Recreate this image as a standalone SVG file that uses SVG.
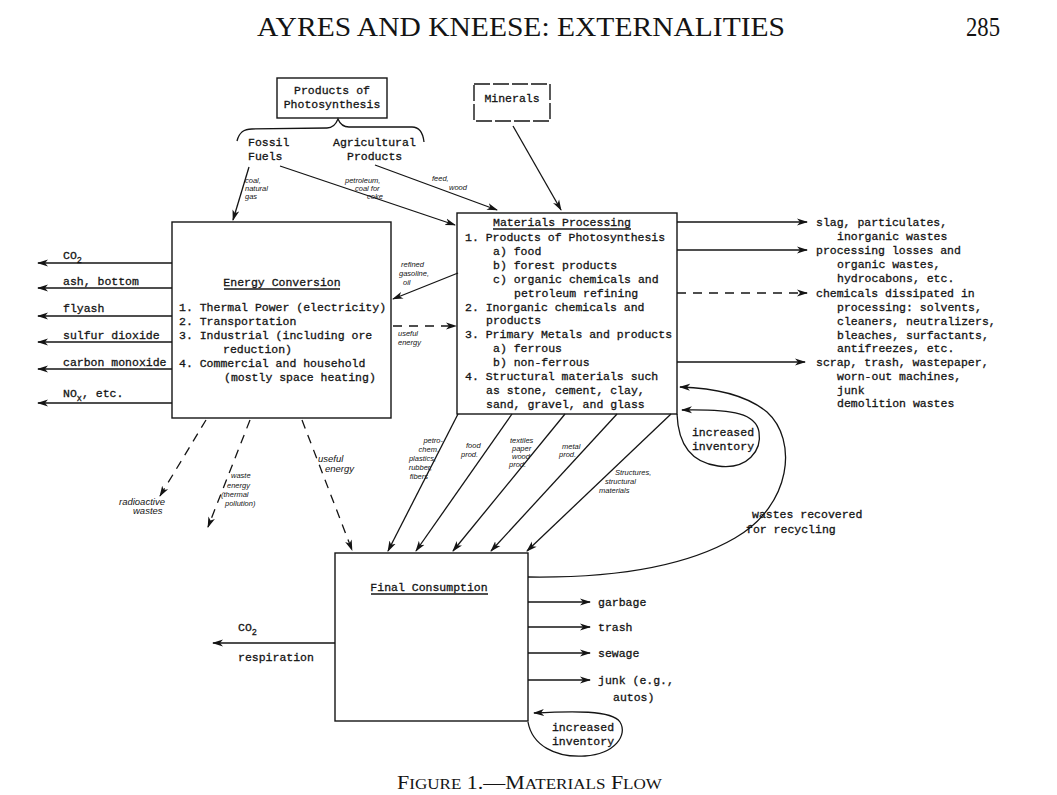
<svg xmlns="http://www.w3.org/2000/svg" width="1057" height="795" viewBox="0 0 1057 795">
<defs>
<style>
.tw{font-family:"Liberation Mono","DejaVu Sans Mono",monospace;font-size:11.5px;fill:#141414;stroke:#141414;stroke-width:0.3}
.hw{font-family:"Liberation Sans","DejaVu Sans",sans-serif;font-style:italic;font-size:7.5px;fill:#141414}
.hl{font-size:9.5px}
.hd{font-family:"Liberation Serif","DejaVu Serif",serif;fill:#141414}
.box{fill:none;stroke:#141414;stroke-width:1.4}
.ln{fill:none;stroke:#141414;stroke-width:1.3}
.ar{fill:none;stroke:#141414;stroke-width:1.3;marker-end:url(#ah)}
.da{fill:none;stroke:#141414;stroke-width:1.3;stroke-dasharray:9 7;marker-end:url(#ah)}
.mid{text-anchor:middle}
.end{text-anchor:end}
</style>
<marker id="ah" markerWidth="11" markerHeight="8" refX="10" refY="4" orient="auto" markerUnits="userSpaceOnUse">
<path d="M0,0.5 L11,4 L0,7.5 L3,4 z" fill="#141414"/>
</marker>
</defs>
<rect width="1057" height="795" fill="#ffffff"/>

<g id="header">
<text class="hd" x="257" y="36" font-size="28" textLength="528" lengthAdjust="spacingAndGlyphs">AYRES AND KNEESE: EXTERNALITIES</text>
<text class="hd" x="966" y="36" font-size="28" textLength="34" lengthAdjust="spacingAndGlyphs">285</text>
</g>

<g id="products-of-photosynthesis">
<rect class="box" x="277" y="78" width="110" height="40"/>
<text class="tw mid" x="332" y="94">Products of</text>
<text class="tw mid" x="332" y="108">Photosynthesis</text>
<path class="ln" d="M237,141 C239,133 243,129 252,129 L327,128 C333,128 336,124 338,119 C340,124 343,127 349,127 L412,127 C419,127 423,133 424,142"/>
</g>

<g id="fossil-fuels">
<text class="tw" x="248" y="146">Fossil</text>
<text class="tw" x="248" y="160">Fuels</text>
</g>

<g id="agricultural-products">
<text class="tw" x="333" y="146">Agricultural</text>
<text class="tw" x="347" y="160">Products</text>
</g>

<g id="minerals">
<rect class="box" x="474" y="84" width="76" height="37" stroke-dasharray="16 3"/>
<text class="tw mid" x="512" y="102">Minerals</text>
</g>

<g id="energy-conversion">
<rect class="box" x="172" y="222" width="219" height="196"/>
<text class="tw mid" x="282" y="286">Energy Conversion</text>
<line class="ln" x1="224" y1="289" x2="340" y2="289" stroke-width="1"/>
<text class="tw" x="179" y="311">1. Thermal Power (electricity)</text>
<text class="tw" x="179" y="325">2. Transportation</text>
<text class="tw" x="179" y="339">3. Industrial (including ore</text>
<text class="tw" x="223" y="353">reduction)</text>
<text class="tw" x="179" y="367">4. Commercial and household</text>
<text class="tw" x="224" y="381">(mostly space heating)</text>
</g>

<g id="materials-processing">
<rect class="box" x="457" y="213" width="220" height="201"/>
<text class="tw mid" x="562" y="226">Materials Processing</text>
<line class="ln" x1="493" y1="229" x2="631" y2="229" stroke-width="1"/>
<text class="tw" x="465" y="241">1. Products of Photosynthesis</text>
<text class="tw" x="493" y="255">a) food</text>
<text class="tw" x="493" y="269">b) forest products</text>
<text class="tw" x="493" y="283">c) organic chemicals and</text>
<text class="tw" x="514" y="297">petroleum refining</text>
<text class="tw" x="465" y="311">2. Inorganic chemicals and</text>
<text class="tw" x="486" y="324">products</text>
<text class="tw" x="465" y="338">3. Primary Metals and products</text>
<text class="tw" x="493" y="352">a) ferrous</text>
<text class="tw" x="493" y="366">b) non-ferrous</text>
<text class="tw" x="465" y="380">4. Structural materials such</text>
<text class="tw" x="486" y="394">as stone, cement, clay,</text>
<text class="tw" x="486" y="408">sand, gravel, and glass</text>
</g>

<g id="final-consumption">
<rect class="box" x="335" y="553" width="193" height="168"/>
<text class="tw mid" x="429" y="591">Final Consumption</text>
<line class="ln" x1="371" y1="594" x2="488" y2="594" stroke-width="1"/>
</g>

<g id="energy-outputs">
<text class="tw" x="63" y="259">CO<tspan font-size="8.5" dy="4">2</tspan></text>
<text class="tw" x="63" y="285">ash, bottom</text>
<text class="tw" x="63" y="312">flyash</text>
<text class="tw" x="63" y="339">sulfur dioxide</text>
<text class="tw" x="63" y="366">carbon monoxide</text>
<text class="tw" x="63" y="397">NO<tspan font-size="8.5" dy="4">x</tspan><tspan dy="-4">, etc.</tspan></text>
</g>

<g id="processing-outputs">
<text class="tw" x="816" y="226">slag, particulates,</text>
<text class="tw" x="837" y="240">inorganic wastes</text>
<text class="tw" x="816" y="254">processing losses and</text>
<text class="tw" x="837" y="268">organic wastes,</text>
<text class="tw" x="837" y="282">hydrocabons, etc.</text>
<text class="tw" x="816" y="297">chemicals dissipated in</text>
<text class="tw" x="837" y="311">processing:  solvents,</text>
<text class="tw" x="837" y="325">cleaners, neutralizers,</text>
<text class="tw" x="837" y="339">bleaches, surfactants,</text>
<text class="tw" x="837" y="352">antifreezes, etc.</text>
<text class="tw" x="816" y="366">scrap, trash, wastepaper,</text>
<text class="tw" x="837" y="380">worn-out machines,</text>
<text class="tw" x="837" y="394">junk</text>
<text class="tw" x="837" y="407">demolition wastes</text>
</g>

<g id="consumption-outputs">
<text class="tw" x="598" y="606">garbage</text>
<text class="tw" x="598" y="631">trash</text>
<text class="tw" x="598" y="657">sewage</text>
<text class="tw" x="598" y="684">junk (e.g.,</text>
<text class="tw" x="613" y="701">autos)</text>
<text class="tw" x="238" y="631">CO<tspan font-size="8.5" dy="4">2</tspan></text>
<text class="tw" x="238" y="661">respiration</text>
</g>

<g id="inventory-processing">
<text class="tw mid" x="723" y="436">increased</text>
<text class="tw mid" x="723" y="450">inventory</text>
</g>

<g id="inventory-consumption">
<text class="tw mid" x="583" y="731">increased</text>
<text class="tw mid" x="583" y="745">inventory</text>
</g>

<g id="connectors">
<line class="ar" x1="249" y1="167" x2="233" y2="220"/>
<line class="ar" x1="280" y1="166" x2="455" y2="225"/>
<line class="ar" x1="375" y1="165" x2="497" y2="210"/>
<line class="ar" x1="513" y1="126" x2="561" y2="210"/>
<line class="ar" x1="172" y1="263" x2="38" y2="263"/>
<line class="ar" x1="172" y1="288" x2="38" y2="288"/>
<line class="ar" x1="172" y1="316" x2="38" y2="316"/>
<line class="ar" x1="172" y1="342" x2="38" y2="342"/>
<line class="ar" x1="172" y1="369" x2="38" y2="369"/>
<line class="ar" x1="172" y1="403" x2="38" y2="403"/>
<line class="ar" x1="458" y1="273" x2="393" y2="299"/>
<line class="da" x1="393" y1="326" x2="456" y2="326"/>
<line class="ar" x1="677" y1="222" x2="807" y2="222"/>
<line class="ar" x1="677" y1="250" x2="807" y2="250"/>
<line class="da" x1="677" y1="293" x2="807" y2="293"/>
<line class="ar" x1="677" y1="362" x2="805" y2="362"/>
<line class="da" x1="206" y1="420" x2="160" y2="496"/>
<line class="da" x1="250" y1="420" x2="208" y2="527"/>
<line class="da" x1="302" y1="420" x2="352" y2="550"/>
<line class="ar" x1="458" y1="414" x2="388" y2="551"/>
<line class="ar" x1="512" y1="414" x2="416" y2="551"/>
<line class="ar" x1="565" y1="414" x2="453" y2="551"/>
<line class="ar" x1="617" y1="414" x2="491" y2="551"/>
<line class="ar" x1="671" y1="414" x2="527" y2="551"/>
<path class="ar" d="M677,414 C678,440 688,462 718,466 C748,470 762,450 759,432 C756,414 735,409 682,410"/>
<path class="ar" d="M528,577 C600,578 680,570 735,538 C792,505 798,440 767,412 C745,394 715,388 680,387"/>
<path class="ar" d="M528,722 C532,745 555,758 585,756 C615,754 628,735 620,722 C612,710 572,711 534,713"/>
<line class="ar" x1="528" y1="602" x2="590" y2="602"/>
<line class="ar" x1="528" y1="627" x2="590" y2="627"/>
<line class="ar" x1="528" y1="653" x2="590" y2="653"/>
<line class="ar" x1="528" y1="680" x2="590" y2="680"/>
<line class="ar" x1="335" y1="643" x2="213" y2="643"/>
</g>

<g id="connector-labels">
<text class="hw" x="245" y="183">coal,</text>
<text class="hw" x="245" y="191">natural</text>
<text class="hw" x="245" y="199">gas</text>
<text class="hw" x="345" y="183">petroleum,</text>
<text class="hw" x="355" y="191">coal for</text>
<text class="hw" x="367" y="199">coke</text>
<text class="hw" x="432" y="181" font-size="9">feed,</text>
<text class="hw" x="449" y="190" font-size="9">wood</text>
<text class="hw" x="401" y="267">refined</text>
<text class="hw" x="399" y="276">gasoline,</text>
<text class="hw" x="403" y="285">oil</text>
<text class="hw" x="398" y="336" font-size="8.5">useful</text>
<text class="hw" x="398" y="345" font-size="8.5">energy</text>
<text class="hw hl" x="119" y="505">radioactive</text>
<text class="hw hl" x="133" y="514">wastes</text>
<text class="hw" x="231" y="478" font-size="9">waste</text>
<text class="hw" x="227" y="488" font-size="9">energy</text>
<text class="hw" x="221" y="497" font-size="9">(thermal</text>
<text class="hw" x="225" y="506" font-size="9">pollution)</text>
<text class="hw hl" x="318" y="462">useful</text>
<text class="hw hl" x="325" y="472">energy</text>
<text class="hw end" x="443" y="443">petro-</text>
<text class="hw end" x="439" y="452">chem.</text>
<text class="hw end" x="436" y="461">plastics,</text>
<text class="hw end" x="432" y="470">rubber,</text>
<text class="hw end" x="428" y="479">fibers</text>
<text class="hw" x="466" y="448">food</text>
<text class="hw" x="461" y="457">prod.</text>
<text class="hw" x="510" y="443">textiles</text>
<text class="hw" x="512" y="451">paper</text>
<text class="hw" x="512" y="459">wood</text>
<text class="hw" x="509" y="467">prod.</text>
<text class="hw" x="562" y="449">metal</text>
<text class="hw" x="559" y="457">prod.</text>
<text class="hw" x="615" y="475" font-size="9">Structures,</text>
<text class="hw" x="605" y="484" font-size="9">structural</text>
<text class="hw" x="599" y="493" font-size="9">materials</text>
<text class="tw" x="752" y="518">wastes recovered</text>
<text class="tw" x="746" y="533">for recycling</text>
</g>

<g id="caption">
<text class="hd" x="397" y="789" textLength="265" lengthAdjust="spacingAndGlyphs"><tspan font-size="18">F</tspan><tspan font-size="14">IGURE</tspan><tspan font-size="18"> 1.—M</tspan><tspan font-size="14">ATERIALS</tspan><tspan font-size="18"> F</tspan><tspan font-size="14">LOW</tspan></text>
</g>
</svg>
